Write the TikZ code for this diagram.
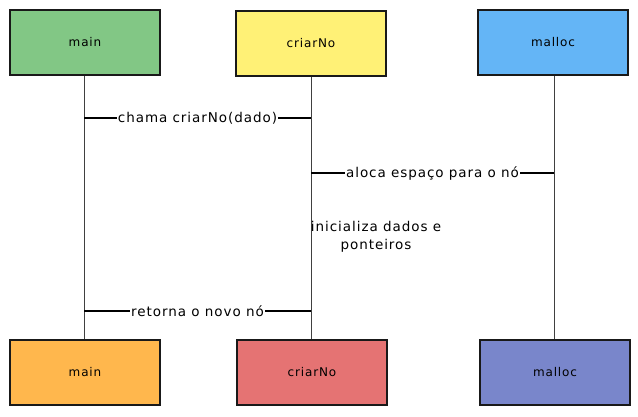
\documentclass[tikz,border=0pt]{standalone}
\usepackage{fontspec}
\setmainfont[LetterSpace=7]{DejaVu Sans}
\begin{document}
\begin{tikzpicture}[x=1pt,y=-1pt,
  actor/.style={draw=black!90,line width=2pt,minimum width=150pt,minimum height=65pt,inner sep=0pt,font=\fontsize{12}{14}\selectfont},
  lifeline/.style={draw=black!75,line width=0.8pt},
  msg/.style={draw=black,line width=1.4pt},
  lbl/.style={fill=white,inner sep=1pt,font=\fontsize{13.5}{18}\selectfont}]
\useasboundingbox (0,0) rectangle (638,416);
\fill[white] (0,0) rectangle (638,416);
\definecolor{cgreen}{HTML}{82C785}
\definecolor{cyellow}{HTML}{FFF176}
\definecolor{cblue}{HTML}{64B5F6}
\definecolor{corange}{HTML}{FFB74D}
\definecolor{cred}{HTML}{E57373}
\definecolor{cindigo}{HTML}{7986CB}
% lifelines
\coordinate (m1) at (84,118);
\coordinate (c1) at (311,118);
\coordinate (c2) at (311,173);
\coordinate (a2) at (554,173);
\coordinate (c4) at (311,311);
\coordinate (m4) at (84,311);
\node[actor,fill=cgreen] (mainT) at (85,42.5) {main};
\node[actor,fill=cyellow] (criT) at (311,43) {criarNo};
\node[actor,fill=cblue] (malT) at (553,42.5) {malloc};
\node[actor,fill=corange] (mainB) at (85,372.5) {main};
\node[actor,fill=cred] (criB) at (312,372.5) {criarNo};
\node[actor,fill=cindigo] (malB) at (555,372.5) {malloc};
\draw[lifeline] (mainT.south -| m1) -- (mainB.north -| m1);
\draw[lifeline] (criT.south -| c1) -- (criB.north -| c1);
\draw[lifeline] (malT.south -| a2) -- (malB.north -| a2);
% messages
\draw[msg] (m1) -- node[lbl] (l1) {chama criarNo(dado)} (c1);
\draw[msg] (c2) -- node[lbl] (l2) {aloca espaço para o nó} (a2);
\node[lbl,fill=none,align=center] (l3) at (376,237) {inicializa dados e\\ponteiros};
\draw[msg] (c4) -- node[lbl] (l4) {retorna o novo nó} (m4);
\end{tikzpicture}
\end{document}
